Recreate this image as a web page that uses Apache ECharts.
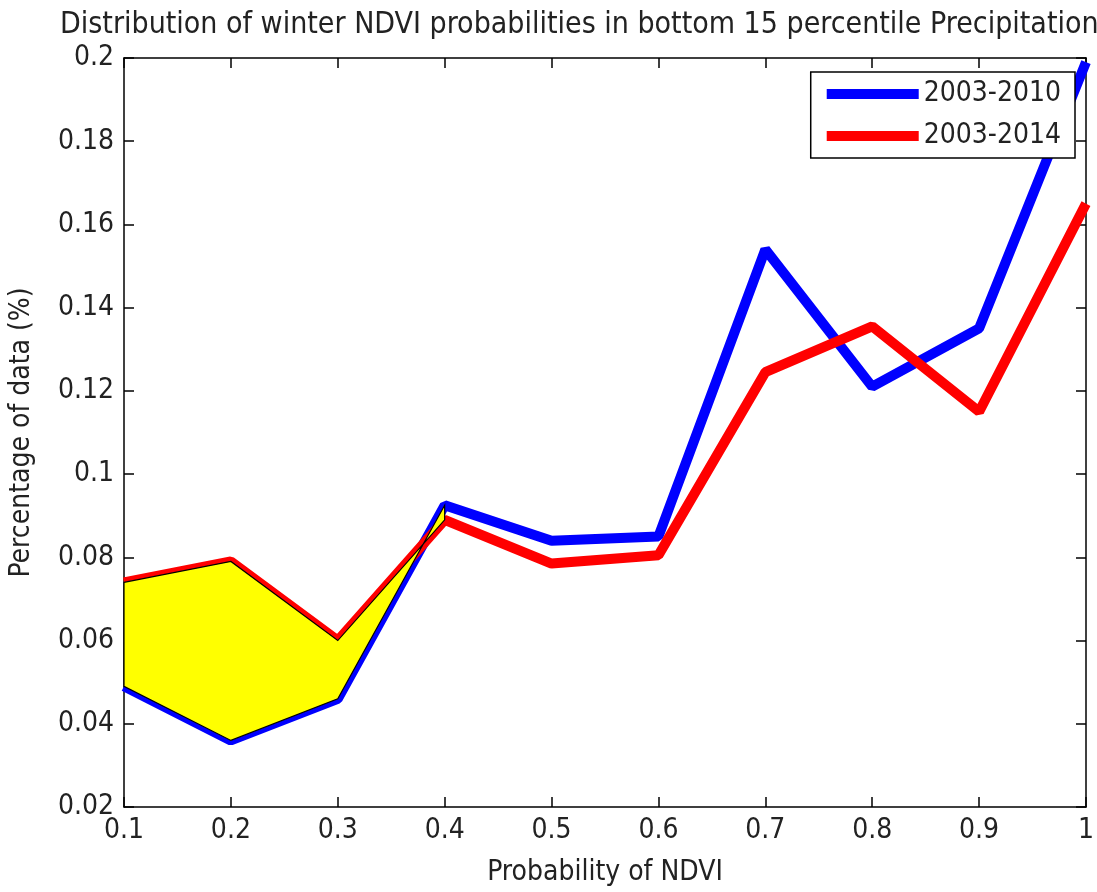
<!DOCTYPE html>
<html>
<head>
<meta charset="utf-8">
<script src="https://cdn.jsdelivr.net/npm/echarts@6/dist/echarts.min.js"></script>
<style>
  html, body { margin: 0; padding: 0; background: #fff; }
  #main { width: 1097px; height: 892px; }
</style>
</head>
<body>
<div id="main"></div>
<script>
const chart = echarts.init(document.getElementById("main"));

const FONT = '"Liberation Sans Narrow", "DejaVu Sans Condensed", sans-serif';

// data
const probNDVI = [0.1, 0.2, 0.3, 0.4, 0.5, 0.6, 0.7, 0.8, 0.9, 1.0];
const pct2010 = [0.049, 0.036, 0.046, 0.0925, 0.084, 0.085, 0.154, 0.121, 0.135, 0.199];
const pct2014 = [0.074, 0.079, 0.060, 0.089, 0.0785, 0.0805, 0.1245, 0.1355, 0.115, 0.165];
const shadedCount = 4; // yellow patch spans the first four points

const xTicks = { min: 0.1, max: 1, interval: 0.1 };
const yTicks = { min: 0.02, max: 0.2, interval: 0.02 };

const line2010 = probNDVI.map((x, i) => [x, pct2010[i]]);
const line2014 = probNDVI.map((x, i) => [x, pct2014[i]]);

const labelStyle = { color: '#222', fontFamily: FONT, fontSize: 28 };

function boxAxis(base, pos, showLabel) {
    return Object.assign({
        type: 'value',
        position: pos,
        axisLine: { show: true, onZero: false, lineStyle: { color: '#000', width: 1.5 } },
        axisTick: { show: true, inside: true, length: 10, lineStyle: { color: '#000', width: 1.5 } },
        splitLine: { show: false },
        axisLabel: Object.assign({ show: showLabel, margin: 10 }, labelStyle)
    }, base);
}

let option = {
    animation: false,
    title: {
        text: 'Distribution of winter NDVI probabilities in bottom 15 percentile Precipitation',
        left: 55,
        top: 5,
        textStyle: { color: '#222', fontFamily: FONT, fontSize: 30, fontWeight: 'normal' }
    },
    legend: {
        orient: 'vertical',
        right: 22,
        top: 72,
        backgroundColor: '#fff',
        borderColor: '#000',
        borderWidth: 1.5,
        padding: [8, 14, 8, 16],
        itemGap: 14,
        itemWidth: 92,
        itemHeight: 10,
        icon: 'rect',
        textStyle: labelStyle,
        data: ['2003-2010', '2003-2014']
    },
    grid: { left: 121, right: 9, top: 58, bottom: 82 },
    xAxis: [
        boxAxis(Object.assign({
            name: 'Probability of NDVI',
            nameLocation: 'middle',
            nameGap: 52,
            nameTextStyle: labelStyle
        }, xTicks), 'bottom', true),
        boxAxis(Object.assign({}, xTicks), 'top', false)
    ],
    yAxis: [
        boxAxis(Object.assign({
            name: 'Percentage of data (%)',
            nameLocation: 'middle',
            nameGap: 88,
            nameTextStyle: labelStyle
        }, yTicks), 'left', true),
        boxAxis(Object.assign({}, yTicks), 'right', false)
    ],
    series: [
        {
            name: '2003-2010',
            type: 'line',
            data: line2010,
            symbol: 'none',
            color: '#0000ff',
            lineStyle: { width: 10, color: '#0000ff' },
            z: 2
        },
        {
            name: '2003-2014',
            type: 'line',
            data: line2014,
            symbol: 'none',
            color: '#ff0000',
            lineStyle: { width: 10, color: '#ff0000' },
            z: 3
        },
        {
            type: 'custom',
            data: [0],
            z: 4,
            silent: true,
            renderItem: function (params, api) {
                const pts = [];
                for (let i = 0; i < shadedCount; i++) {
                    pts.push(api.coord([probNDVI[i], pct2014[i]]));
                }
                for (let i = shadedCount - 1; i >= 0; i--) {
                    pts.push(api.coord([probNDVI[i], pct2010[i]]));
                }
                return {
                    type: 'polygon',
                    shape: { points: pts },
                    style: { fill: '#ffff00', stroke: '#000', lineWidth: 1.2 }
                };
            }
        }
    ]
};

chart.setOption(option);
</script>
</body>
</html>
